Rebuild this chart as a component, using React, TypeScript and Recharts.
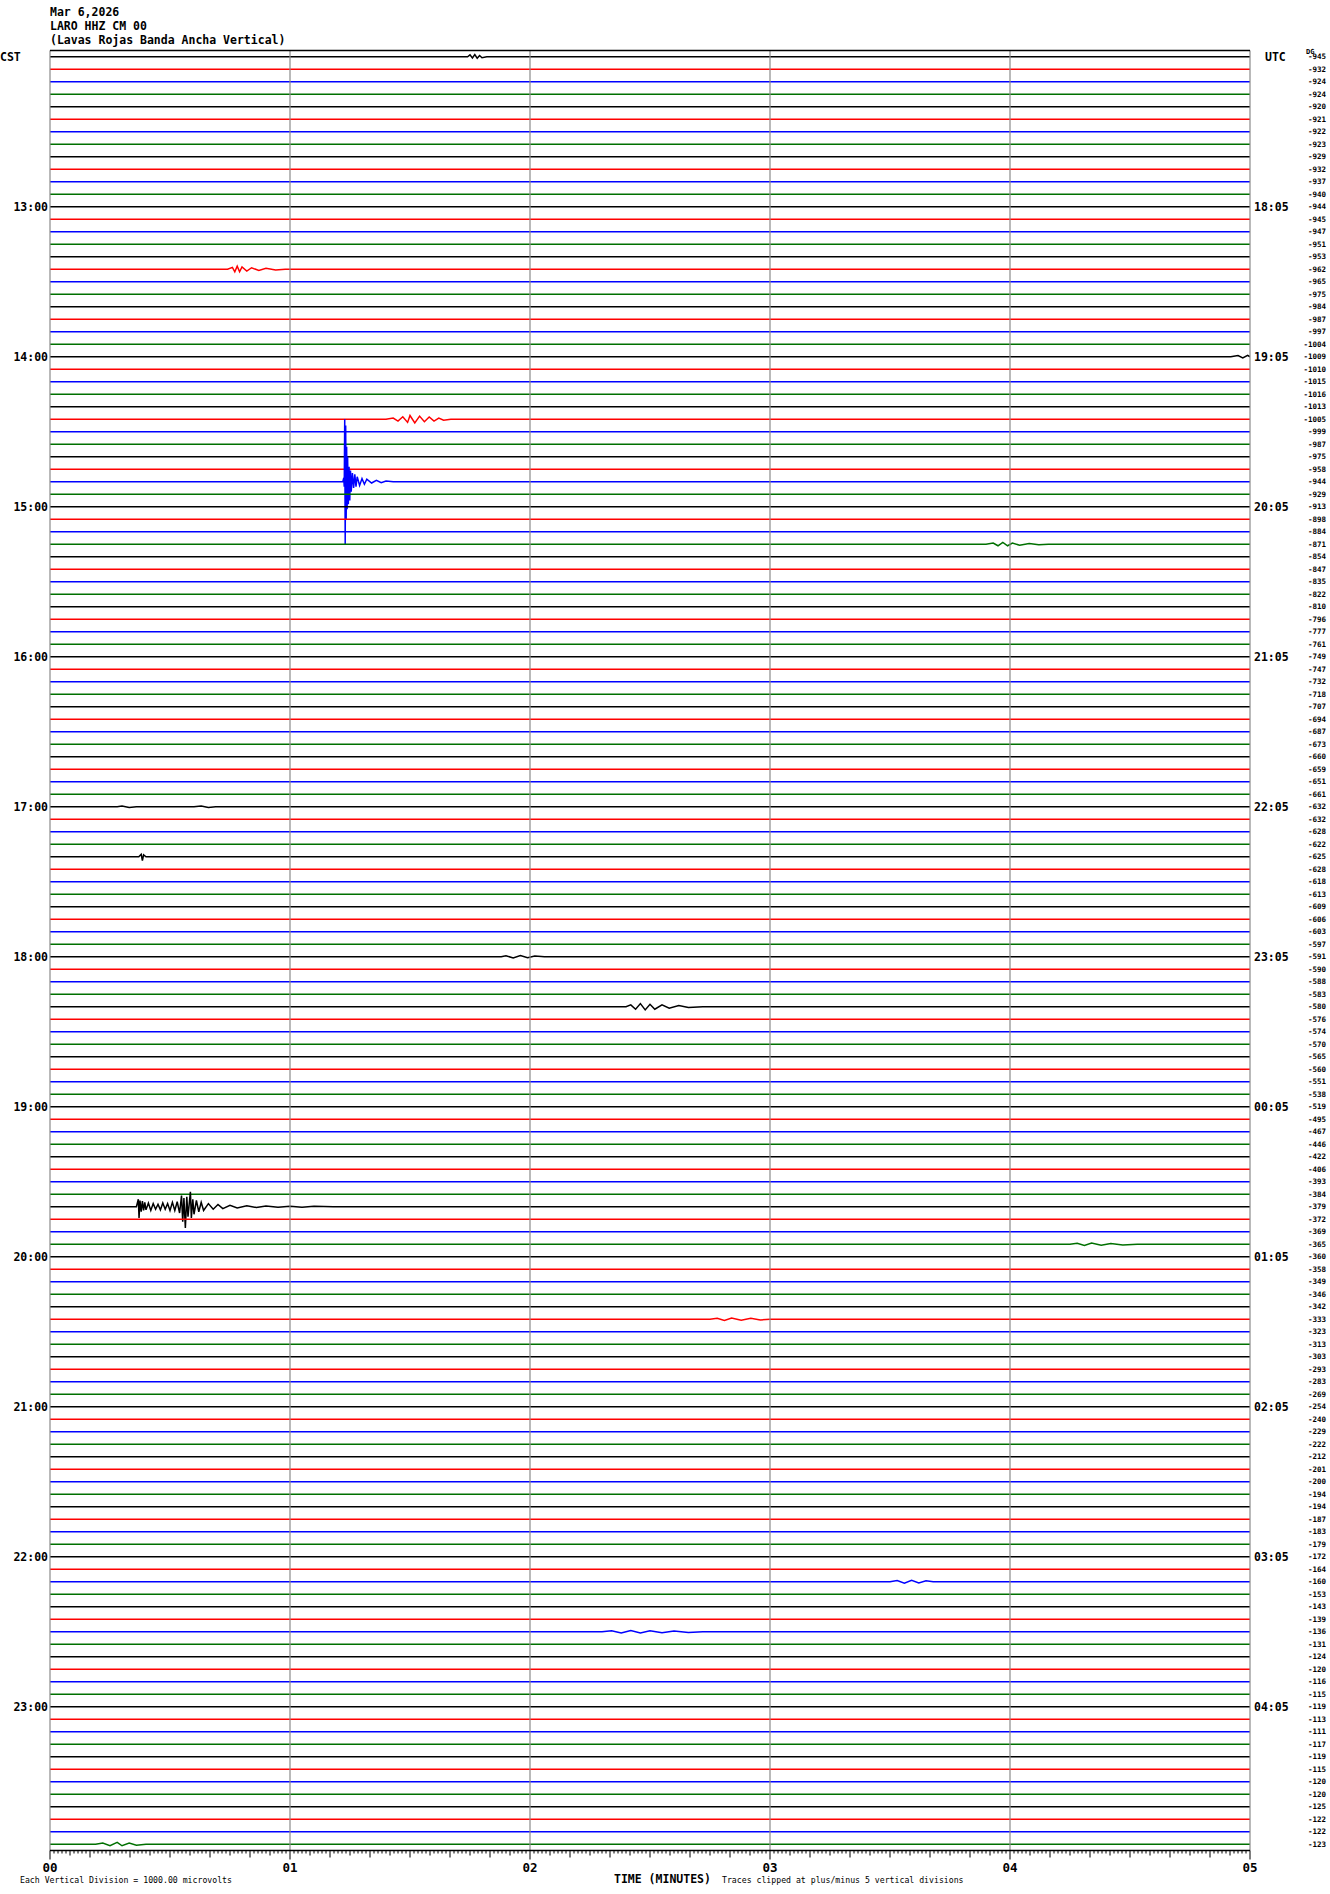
import { LineChart, Line, XAxis, YAxis, ReferenceLine } from 'recharts';

const traceColors = ['#000000', '#ff0000', '#0000ff', '#007000'];

// offset value printed at the right end of each 5-minute trace
const offsets = [
  -945, -932, -924, -924, -920, -921, -922, -923, -929, -932, -937, -940,
  -944, -945, -947, -951, -953, -962, -965, -975, -984, -987, -997, -1004,
  -1009, -1010, -1015, -1016, -1013, -1005, -999, -987, -975, -958, -944, -929,
  -913, -898, -884, -871, -854, -847, -835, -822, -810, -796, -777, -761,
  -749, -747, -732, -718, -707, -694, -687, -673, -660, -659, -651, -661,
  -632, -632, -628, -622, -625, -628, -618, -613, -609, -606, -603, -597,
  -591, -590, -588, -583, -580, -576, -574, -570, -565, -560, -551, -538,
  -519, -495, -467, -446, -422, -406, -393, -384, -379, -372, -369, -365,
  -360, -358, -349, -346, -342, -333, -323, -313, -303, -293, -283, -269,
  -254, -240, -229, -222, -212, -201, -200, -194, -194, -187, -183, -179,
  -172, -164, -160, -153, -143, -139, -136, -131, -124, -120, -116, -115,
  -119, -113, -111, -117, -119, -115, -120, -120, -125, -122, -122, -123,
];

const cstHours = ['13:00', '14:00', '15:00', '16:00', '17:00', '18:00', '19:00', '20:00', '21:00', '22:00', '23:00'];
const utcHours = ['18:05', '19:05', '20:05', '21:05', '22:05', '23:05', '00:05', '01:05', '02:05', '03:05', '04:05'];
const minuteLabels = ['00', '01', '02', '03', '04', '05'];

// [minute, deflection in vertical divisions, + is up]
const quake1440 = [
  [1.22, 0], [1.224, 0.3], [1.226, -0.4], [1.228, 5], [1.23, -5], [1.232, 4.5], [1.234, -3],
  [1.236, 2.8], [1.238, -2.2], [1.24, 2.0], [1.243, -1.8], [1.246, 1.2], [1.249, -1.5],
  [1.252, 0.9], [1.255, -0.8], [1.26, 0.7], [1.265, -0.5], [1.27, 0.6], [1.275, -0.4],
  [1.28, 0.4], [1.29, -0.3], [1.3, 0.25], [1.31, -0.2], [1.32, 0.2], [1.34, -0.1],
  [1.36, 0.12], [1.38, -0.08], [1.4, 0.06], [1.43, 0],
];
const quake1940 = [
  [0.36, 0], [0.368, 0.6], [0.371, -0.9], [0.375, 0.5], [0.38, -0.4], [0.385, 0.45],
  [0.39, -0.3], [0.395, 0.35], [0.4, -0.25], [0.41, 0.3], [0.42, -0.3], [0.43, 0.25],
  [0.44, -0.2], [0.45, 0.2], [0.46, -0.25], [0.47, 0.3], [0.48, -0.2], [0.49, 0.25],
  [0.5, -0.3], [0.51, 0.35], [0.52, -0.3], [0.53, 0.4], [0.54, -0.5], [0.548, 0.9],
  [0.553, -1.2], [0.558, 0.7], [0.564, -1.7], [0.57, 0.8], [0.575, -0.8], [0.585, 1.2],
  [0.589, -0.9], [0.595, 0.6], [0.6, -0.6], [0.61, 0.5], [0.62, -0.4], [0.63, 0.35],
  [0.64, -0.3], [0.66, 0.25], [0.68, -0.2], [0.7, 0.18], [0.72, -0.15], [0.75, 0.12],
  [0.78, -0.1], [0.82, 0.08], [0.86, -0.06], [0.9, 0.05], [0.95, -0.04], [1.0, 0.04],
  [1.05, -0.03], [1.1, 0.03], [1.18, 0],
];
const noise1200 = [[1.74, 0], [1.75, 0.15], [1.76, -0.1], [1.77, 0.18], [1.78, -0.12], [1.79, 0.1], [1.8, -0.08], [1.82, 0]];
const noise1325 = [[0.74, 0], [0.76, 0.15], [0.77, -0.2], [0.78, 0.25], [0.79, -0.2], [0.8, 0.18], [0.82, -0.15], [0.84, 0.12], [0.87, -0.1], [0.9, 0.08], [0.94, -0.06], [0.98, 0]];
const noise1400 = [[4.92, 0], [4.95, 0.1], [4.97, -0.1], [4.99, 0.12]];
const noise1425 = [[1.4, 0], [1.43, 0.1], [1.45, -0.15], [1.47, 0.2], [1.49, -0.25], [1.5, 0.3], [1.52, -0.3], [1.54, 0.25], [1.56, -0.2], [1.58, 0.18], [1.6, -0.15], [1.62, 0.1], [1.64, -0.08], [1.67, 0]];
const noise1515 = [[3.9, 0], [3.93, 0.1], [3.95, -0.12], [3.97, 0.15], [3.99, -0.12], [4.01, 0.1], [4.04, -0.08], [4.08, 0.06], [4.12, -0.04], [4.16, 0]];
const noise1700 = [[0.28, 0], [0.3, 0.06], [0.33, -0.06], [0.36, 0], [0.6, 0], [0.63, 0.06], [0.66, -0.06], [0.69, 0]];
const noise1720 = [[0.37, 0], [0.38, 0.2], [0.385, -0.3], [0.39, 0.15], [0.4, 0]];
const noise1800 = [[1.88, 0], [1.9, 0.08], [1.93, -0.1], [1.96, 0.1], [1.99, -0.08], [2.02, 0.06], [2.06, 0]];
const noise1820 = [[2.4, 0], [2.42, 0.15], [2.44, -0.2], [2.46, 0.25], [2.48, -0.25], [2.5, 0.2], [2.52, -0.2], [2.55, 0.15], [2.58, -0.12], [2.62, 0.1], [2.66, -0.06], [2.72, 0]];
const noise1955 = [[4.25, 0], [4.28, 0.08], [4.31, -0.1], [4.34, 0.1], [4.38, -0.08], [4.42, 0.06], [4.47, -0.05], [4.53, 0]];
const noise2025 = [[2.75, 0], [2.78, 0.08], [2.81, -0.1], [2.84, 0.1], [2.88, -0.08], [2.92, 0.07], [2.96, -0.05], [3.0, 0]];
const noise2210 = [[3.5, 0], [3.53, 0.1], [3.56, -0.12], [3.59, 0.12], [3.62, -0.1], [3.65, 0.07], [3.68, 0]];
const noise2230 = [[2.3, 0], [2.34, 0.08], [2.38, -0.1], [2.42, 0.1], [2.46, -0.1], [2.5, 0.08], [2.55, -0.08], [2.6, 0.06], [2.66, -0.05], [2.72, 0]];
const noise2355 = [[0.19, 0], [0.22, 0.1], [0.25, -0.12], [0.28, 0.15], [0.3, -0.12], [0.33, 0.1], [0.36, -0.08], [0.4, 0]];

const events = new Map<number, number[][]>([
  [0, noise1200], [17, noise1325], [24, noise1400], [29, noise1425], [34, quake1440],
  [39, noise1515], [60, noise1700], [64, noise1720], [72, noise1800], [76, noise1820],
  [92, quake1940], [95, noise1955], [101, noise2025], [122, noise2210], [126, noise2230],
  [143, noise2355],
]);

const traces = offsets.map((_, i) => {
  const ev = events.get(i) ?? [];
  return [{ t: 0, v: i }, ...ev.map(([t, a]) => ({ t, v: i - a })), { t: 5, v: i }];
});

const rowTicks = offsets.map((_, i) => i);
const secondTicks: number[] = [];
for (let s = 0; s <= 300; s++) secondTicks.push(s / 60);

const mono = 'DejaVu Sans Mono';

const RowLabel = (props: any) => {
  const { y, payload } = props;
  const i = payload.value as number;
  const h = i / 12 - 1;
  return (
    <g fontFamily={mono}>
      {i === 0 && (
        <>
          <text x={0} y={y} dy="0.35em" fontSize={11.5} fontWeight="bold" fill="#000">CST</text>
          <text x={1265} y={y} dy="0.35em" fontSize={11.5} fontWeight="bold" fill="#000">UTC</text>
          <text x={1306} y={y - 3} fontSize={7} fontWeight="bold" fill="#000">DG</text>
        </>
      )}
      {i > 0 && i % 12 === 0 && (
        <>
          <text x={48} y={y} dy="0.35em" textAnchor="end" fontSize={11.5} fontWeight="bold" fill="#000">{cstHours[h]}</text>
          <text x={1254} y={y} dy="0.35em" fontSize={11.5} fontWeight="bold" fill="#000">{utcHours[h]}</text>
        </>
      )}
      <text x={1326} y={y} dy="0.35em" textAnchor="end" fontSize={7.5} fontWeight="bold" fill="#000">{offsets[i]}</text>
    </g>
  );
};

const SecondTick = (props: any) => {
  const { x, y, payload } = props;
  const s = Math.round(payload.value * 60);
  const len = s % 60 === 0 ? 9 : s % 10 === 0 ? 7 : s % 5 === 0 ? 5 : 3;
  return (
    <g>
      <line x1={x} x2={x} y1={y} y2={y + len} stroke="#000" strokeWidth={1} />
      {s % 60 === 0 && (
        <text x={x} y={y + 21} textAnchor="middle" fontFamily={mono} fontSize={12.5} fontWeight="bold" fill="#000">
          {minuteLabels[s / 60]}
        </text>
      )}
    </g>
  );
};

export default function App() {
  return (
    <div style={{ position: 'absolute', left: 0, top: 0, width: 1330, height: 1894, background: '#fff' }}>
      <LineChart width={1330} height={1894} margin={{ top: 50.5, right: 80, bottom: 13.5, left: 0 }}>
        <XAxis
          dataKey="t"
          type="number"
          domain={[0, 5]}
          ticks={secondTicks}
          interval={0}
          tick={<SecondTick />}
          tickLine={false}
          tickSize={0}
          tickMargin={0}
          axisLine={{ stroke: '#000', strokeWidth: 1.3 }}
          height={30}
          allowDataOverflow
        />
        <YAxis
          type="number"
          domain={[-0.5, 143.5]}
          reversed
          ticks={rowTicks}
          interval={0}
          tick={<RowLabel />}
          tickLine={false}
          axisLine={false}
          width={50}
          allowDataOverflow
        />
        {traces.map((d, i) => (
          <Line
            key={i}
            data={d}
            dataKey="v"
            type="linear"
            stroke={traceColors[i % 4]}
            strokeWidth={1.5}
            dot={false}
            activeDot={false}
            isAnimationActive={false}
          />
        ))}
        {minuteLabels.map((_, m) => (
          <ReferenceLine key={m} x={m} stroke="#8a8a8a" strokeWidth={1.2} />
        ))}
        <ReferenceLine y={-0.5} stroke="#000" strokeWidth={1.3} />
      </LineChart>
      <svg width={1330} height={1894} style={{ position: 'absolute', left: 0, top: 0, pointerEvents: 'none' }}>
        <g fontFamily={mono} fontWeight="bold" fontSize={11.5} fill="#000">
          <text x={50} y={16}>Mar 6,2026</text>
          <text x={50} y={30}>LARO HHZ CM 00</text>
          <text x={50} y={44}>(Lavas Rojas Banda Ancha Vertical)</text>
          <text x={614} y={1883}>TIME (MINUTES)</text>
        </g>
        <g fontFamily={mono} fontSize={8.2} fill="#000">
          <text x={20} y={1883}>Each Vertical Division = 1000.00 microvolts</text>
          <text x={722} y={1883}>Traces clipped at plus/minus 5 vertical divisions</text>
        </g>
      </svg>
    </div>
  );
}
